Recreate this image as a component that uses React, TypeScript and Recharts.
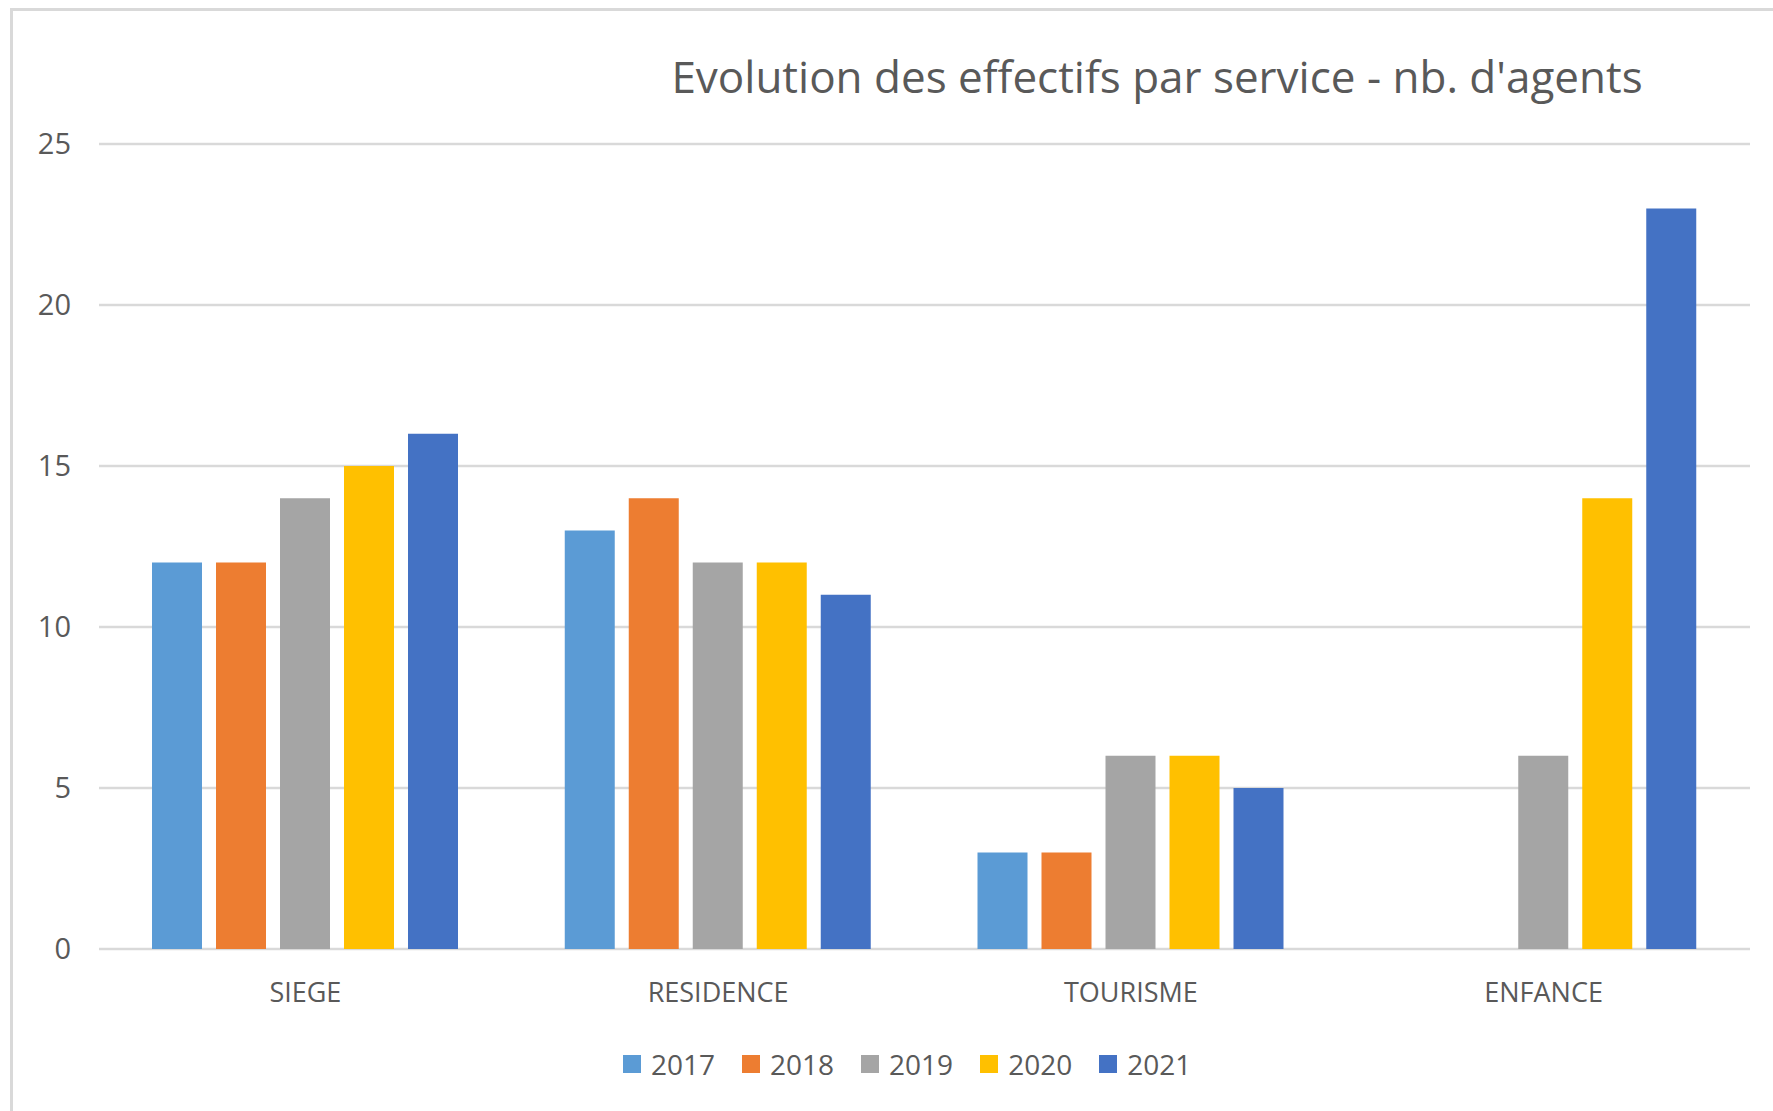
import { BarChart, Bar, XAxis, YAxis, CartesianGrid, Legend } from "recharts";

const categories = ["SIEGE", "RESIDENCE", "TOURISME", "ENFANCE"];
const years = ["2017", "2018", "2019", "2020", "2021"];

const v2017 = [12, 13, 3, null];
const v2018 = [12, 14, 3, null];
const v2019 = [14, 12, 6, 6];
const v2020 = [15, 12, 6, 14];
const v2021 = [16, 11, 5, 23];

const yTicks = [0, 5, 10, 15, 20, 25];

const COLORS = ["#5b9bd5", "#ed7d31", "#a5a5a5", "#ffc000", "#4472c4"];
const TEXT = "#595959";
const GRID = "#d9d9d9";
const FONT = "'Open Sans', sans-serif";

const series = [v2017, v2018, v2019, v2020, v2021];

const data = categories.map((name, i) => {
  const row: Record<string, string | number | null> = { name };
  years.forEach((y, k) => {
    row[y] = series[k][i];
  });
  return row;
});

function LegendContent() {
  return (
    <div style={{ display: "flex", alignItems: "center", paddingLeft: 623, fontFamily: FONT }}>
      {years.map((y, k) => (
        <div key={y} style={{ display: "flex", alignItems: "center", marginRight: 27 }}>
          <span style={{ width: 18, height: 18, background: COLORS[k], marginRight: 10 }} />
          <span style={{ fontSize: 28, lineHeight: "28px", color: TEXT }}>{y}</span>
        </div>
      ))}
    </div>
  );
}

export default function App() {
  return (
    <div
      style={{
        position: "fixed",
        left: 0,
        top: 0,
        width: 1773,
        height: 1111,
        overflow: "hidden",
        background: "#fff",
      }}
    >
      {/* chart frame, right and bottom edges fall outside the picture */}
      <div
        style={{
          position: "absolute",
          left: 10,
          top: 8,
          width: 1820,
          height: 1200,
          border: `3px solid ${GRID}`,
        }}
      />
      <svg style={{ position: "absolute", left: 0, top: 0 }} width={1773} height={120}>
        <text x={1157} y={93} textAnchor="middle" fill={TEXT} fontFamily={FONT} fontSize={44}>
          Evolution des effectifs par service - nb. d'agents
        </text>
      </svg>
      <div style={{ position: "absolute", left: 0, top: 0 }}>
        <BarChart
          width={1773}
          height={1111}
          data={data}
          margin={{ top: 144, right: 23, bottom: 102, left: 0 }}
          barSize={50}
          barGap={14}
        >
          <CartesianGrid vertical={false} stroke={GRID} strokeWidth={2.5} />
          <XAxis
            dataKey="name"
            axisLine={false}
            tickLine={false}
            tickSize={0}
            tickMargin={34}
            height={60}
            tick={{ fill: TEXT, fontSize: 27, fontFamily: FONT }}
          />
          <YAxis
            width={99}
            domain={[0, 25]}
            ticks={yTicks}
            axisLine={false}
            tickLine={false}
            tickSize={0}
            tickMargin={28}
            tick={{ fill: TEXT, fontSize: 29, fontFamily: FONT }}
          />
          <Legend
            verticalAlign="middle"
            align="center"
            layout="horizontal"
            wrapperStyle={{ top: 1050, left: 0, width: 1773 }}
            content={() => <LegendContent />}
          />
          {years.map((y, k) => (
            <Bar key={y} dataKey={y} fill={COLORS[k]} isAnimationActive={false} />
          ))}
        </BarChart>
      </div>
    </div>
  );
}
